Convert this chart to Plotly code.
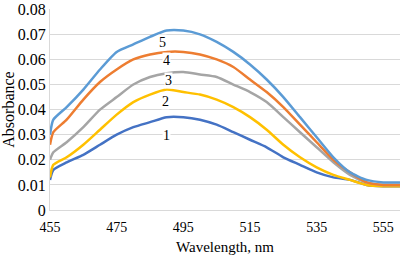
import plotly.graph_objects as go

wavelength = [455, 456, 460, 465, 470, 475, 480, 485, 490, 495, 500, 505, 510, 515, 520, 525, 530, 535, 540, 545, 550, 555, 560]

abs_1 = [0.012, 0.016, 0.019, 0.022, 0.026, 0.030, 0.033, 0.035, 0.037, 0.037, 0.036, 0.034, 0.031, 0.028, 0.025, 0.021, 0.018, 0.015, 0.013, 0.012, 0.010, 0.0095, 0.0095]
abs_2 = [0.013, 0.018, 0.021, 0.026, 0.032, 0.038, 0.043, 0.046, 0.048, 0.047, 0.046, 0.044, 0.041, 0.037, 0.032, 0.026, 0.021, 0.017, 0.014, 0.012, 0.010, 0.0095, 0.0095]
abs_3 = [0.020, 0.023, 0.027, 0.033, 0.040, 0.045, 0.050, 0.053, 0.0545, 0.055, 0.054, 0.053, 0.050, 0.047, 0.043, 0.037, 0.031, 0.025, 0.019, 0.014, 0.011, 0.010, 0.010]
abs_4 = [0.026, 0.031, 0.036, 0.044, 0.051, 0.056, 0.060, 0.062, 0.063, 0.063, 0.062, 0.060, 0.057, 0.052, 0.047, 0.041, 0.034, 0.027, 0.020, 0.015, 0.011, 0.010, 0.010]
abs_5 = [0.030, 0.036, 0.041, 0.048, 0.056, 0.063, 0.066, 0.069, 0.0715, 0.0715, 0.070, 0.067, 0.063, 0.058, 0.052, 0.045, 0.037, 0.029, 0.021, 0.015, 0.012, 0.011, 0.011]

series_names = ["1", "2", "3", "4", "5"]
series_colors = ["#4472C4", "#FFC000", "#A5A5A5", "#ED7D31", "#5B9BD5"]
label_x = [490, 489.5, 490.4, 489.8, 488.6]
label_y = [0.0297, 0.0434, 0.0516, 0.0594, 0.0668]

x_ticks = [455, 475, 495, 515, 535, 555]
y_ticks = [0, 0.01, 0.02, 0.03, 0.04, 0.05, 0.06, 0.07, 0.08]
y_tick_text = ["0", "0.01", "0.02", "0.03", "0.04", "0.05", "0.06", "0.07", "0.08"]

SERIF = "Liberation Serif, Times New Roman, serif"

fig = go.Figure()
for name, ys, col in zip(series_names, [abs_1, abs_2, abs_3, abs_4, abs_5], series_colors):
    fig.add_trace(go.Scatter(x=wavelength, y=ys, mode="lines", name=name,
                             line=dict(color=col, width=2.5, shape="spline", smoothing=0.6)))

for name, lx, ly in zip(series_names, label_x, label_y):
    fig.add_annotation(x=lx, y=ly, text=name, showarrow=False, bgcolor="white",
                       font=dict(family=SERIF, size=14, color="black"),
                       borderpad=0)

fig.update_layout(
    width=401, height=259,
    margin=dict(l=50, r=1, t=9, b=49),
    paper_bgcolor="white", plot_bgcolor="white",
    showlegend=False,
    font=dict(family=SERIF, size=15, color="black"),
    xaxis=dict(range=[455, 560], tickvals=x_ticks, showgrid=False, zeroline=False,
               showline=True, linecolor="#D9D9D9", linewidth=1, ticks="",
               tickfont=dict(size=14), ticklabelstandoff=4,
               title=dict(text="Wavelength, nm", standoff=7, font=dict(size=15))),
    yaxis=dict(range=[0, 0.0801], tickvals=y_ticks, ticktext=y_tick_text,
               showgrid=True, gridcolor="#D9D9D9", gridwidth=1, zeroline=False,
               showline=True, linecolor="#D9D9D9", linewidth=1, ticks="",
               tickfont=dict(size=16), ticklabeloverflow="allow",
               title=dict(text="Absorbance", standoff=1, font=dict(size=16))),
)

fig.write_html("out.html", config={"displayModeBar": False},
               post_script="document.body.style.margin='0';")
